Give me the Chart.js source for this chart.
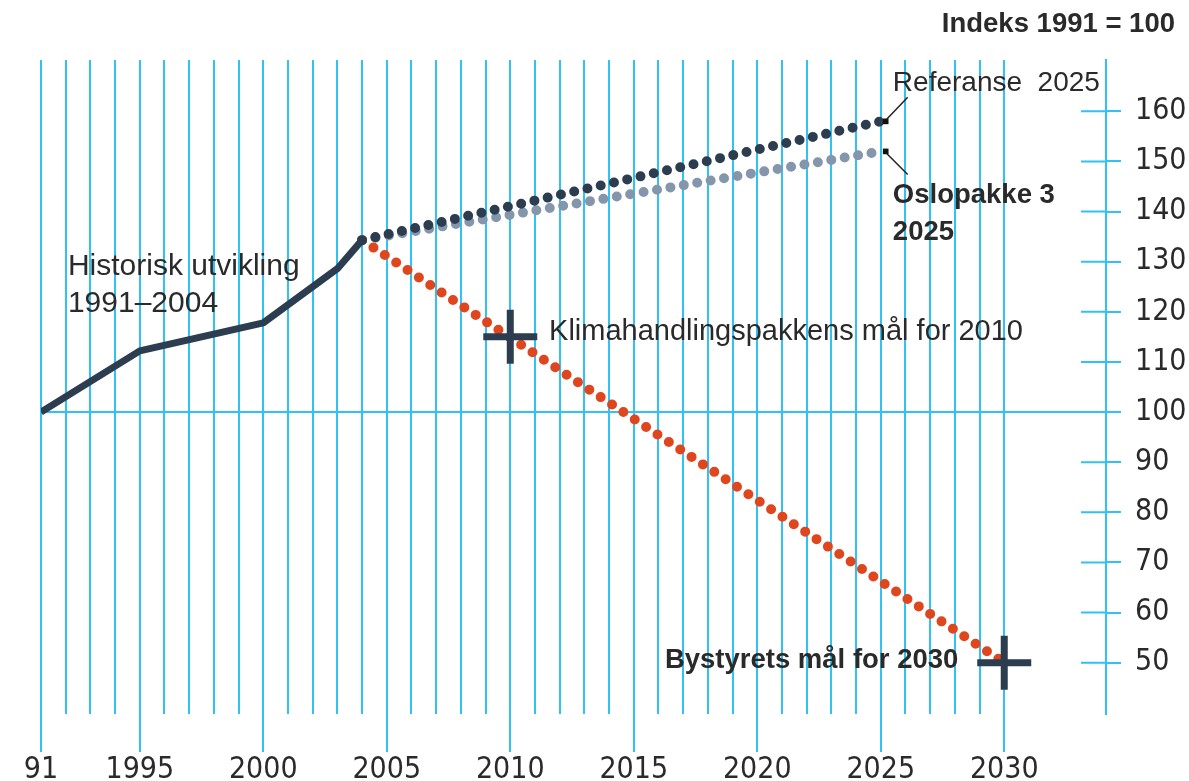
<!DOCTYPE html>
<html>
<head>
<meta charset="utf-8">
<script src="https://cdn.jsdelivr.net/npm/chart.js@4"></script>
<style>
  html, body { margin: 0; padding: 0; background: #fff; }
  #wrap { width: 1189px; height: 781px; }
</style>
</head>
<body>
<div id="wrap"><canvas id="chart" width="1189" height="781"></canvas></div>
<script>
// historisk utvikling 1991-2004
const histYears = [1991, 1995, 2000, 2003, 2004];
const histValues = [100, 112.2, 117.8, 128.6, 134.3];

// framskrivinger til 2025
const projYears = [2004, 2025];
const referanseValues = [134.3, 158];
const oslopakkeValues = [134.3, 152];

// linja mot bystyrets mål
const targetYears = [2004, 2030];
const targetValues = [134.3, 50];

// mål (kryss)
const goalYears = [2010, 2030];
const goalValues = [115, 50];

// endepunkt for framskrivingene (små firkanter)
const endYear = 2025.2;

// akser
const yTickValues = [50, 60, 70, 80, 90, 100, 110, 120, 130, 140, 150, 160];
const xLabelYears = [1991, 1995, 2000, 2005, 2010, 2015, 2020, 2025, 2030];
const xLabelTexts = ['91', '1995', '2000', '2005', '2010', '2015', '2020', '2025', '2030'];

const CYAN = '#30c2f3';
const DARK = '#2c3d50';
const LIGHT = '#8396ac';
const RED = '#e0461e';
const TEXT = '#2a2a2a';
const NARROW = "'Liberation Sans Narrow', 'DejaVu Sans Condensed', sans-serif";
const SANS = "'Liberation Sans', Arial, sans-serif";

const xTickYears = [];
for (let y = 1991; y <= 2030; y++) xTickYears.push(y);

const toPoints = (xs, ys) => xs.map((x, i) => ({ x, y: ys[i] }));

const dotted = {
  borderWidth: 10,
  borderDash: [0, 13.6],
  borderCapStyle: 'round',
  pointRadius: 0,
  tension: 0,
};

// korte tick-streker inne i plottet + tekster
const annotate = {
  id: 'annotate',
  beforeDatasetsDraw(chart) {
    const ctx = chart.ctx;
    const y = chart.scales.y;
    const r = chart.chartArea.right;
    ctx.save();
    ctx.strokeStyle = CYAN;
    ctx.lineWidth = 2;
    ctx.beginPath();
    yTickValues.forEach(v => {
      if (v === 100) return;
      const py = y.getPixelForValue(v);
      ctx.moveTo(r - 25, py);
      ctx.lineTo(r, py);
    });
    ctx.stroke();
    ctx.restore();
  },
  afterDraw(chart) {
    const ctx = chart.ctx;
    const xs = chart.scales.x;
    const ys = chart.scales.y;
    const px = v => xs.getPixelForValue(v);
    const py = v => ys.getPixelForValue(v);

    ctx.save();
    // strek fra firkantene til tekstene
    const sx = px(endYear);
    ctx.strokeStyle = '#222';
    ctx.lineWidth = 1.5;
    ctx.beginPath();
    ctx.moveTo(sx + 1, py(referanseValues[1]) - 2);
    ctx.lineTo(sx + 22, py(referanseValues[1]) - 24);
    ctx.moveTo(sx + 1, py(oslopakkeValues[1]) + 2);
    ctx.lineTo(sx + 22, py(oslopakkeValues[1]) + 23);
    ctx.stroke();

    ctx.fillStyle = TEXT;
    ctx.textBaseline = 'alphabetic';
    ctx.textAlign = 'left';

    ctx.font = '30px ' + SANS;
    ctx.fillText('Historisk utvikling', px(1992.09), py(127.28));
    ctx.fillText('1991–2004', px(1992.09), py(127.28) + 36.7);

    ctx.font = '28px ' + SANS;
    ctx.fillText('Referanse  2025', px(2025.49), py(164.1));

    ctx.font = '29px ' + SANS;
    ctx.fillText('Klimahandlingspakkens mål for 2010', px(2011.57), py(114.3));

    ctx.font = 'bold 27.5px ' + SANS;
    ctx.fillText('Oslopakke 3', px(2025.49), py(141.8));
    ctx.fillText('2025', px(2025.49), py(141.8) + 37.4);
    ctx.fillText('Bystyrets mål for 2030', px(2016.26), py(48.94));

    ctx.textAlign = 'right';
    ctx.fillText('Indeks 1991 = 100', chart.width - 14, 32);
    ctx.restore();
  }
};

new Chart(document.getElementById('chart'), {
  type: 'line',
  data: {
    datasets: [
      {
        label: 'Historisk utvikling 1991–2004',
        data: toPoints(histYears, histValues),
        borderColor: DARK,
        borderWidth: 7,
        borderJoinStyle: 'round',
        pointRadius: 0,
        order: 1,
      },
      { label: 'Referanse 2025', data: toPoints(projYears, referanseValues), borderColor: DARK, ...dotted, order: 2 },
      { label: 'Oslopakke 3 2025', data: toPoints(projYears, oslopakkeValues), borderColor: LIGHT, ...dotted, order: 4 },
      { label: 'Mot bystyrets mål', data: toPoints(targetYears, targetValues), borderColor: RED, ...dotted, order: 3 },
      {
        label: 'Mål',
        data: toPoints(goalYears, goalValues),
        showLine: false,
        pointStyle: 'cross',
        pointRadius: 27,
        pointBorderWidth: 7,
        pointBorderColor: DARK,
        order: 0,
      },
      {
        label: 'Ende',
        data: [{ x: endYear, y: referanseValues[1] }, { x: endYear, y: oslopakkeValues[1] }],
        showLine: false,
        pointStyle: 'rect',
        pointRadius: 4,
        pointBackgroundColor: '#111',
        pointBorderWidth: 0,
        order: 0,
      },
    ],
  },
  options: {
    responsive: false,
    animation: false,
    events: [],
    layout: { padding: { left: 41, top: 60, right: 0, bottom: 0 } },
    plugins: { legend: { display: false }, tooltip: { enabled: false } },
    scales: {
      x: {
        type: 'linear',
        min: 1991,
        max: 2034.12,
        afterBuildTicks: s => { s.ticks = xTickYears.map(v => ({ value: v })); },
        afterFit: s => { s.height = 67; },
        border: { display: false },
        grid: {
          color: CYAN,
          lineWidth: 2,
          tickLength: 38,
          tickWidth: 2,
          tickColor: c => xLabelYears.includes(c.tick.value) ? CYAN : 'transparent',
        },
        ticks: {
          autoSkip: false,
          maxRotation: 0,
          padding: 0,
          color: TEXT,
          font: { family: NARROW, size: 30 },
          callback: v => {
            const i = xLabelYears.indexOf(v);
            return i >= 0 ? xLabelTexts[i] : '';
          },
        },
      },
      y: {
        position: 'right',
        min: 39.75,
        max: 170.24,
        afterBuildTicks: s => { s.ticks = yTickValues.map(v => ({ value: v })); },
        afterFit: s => { s.width = 83; },
        border: { display: true, color: CYAN, width: 2 },
        grid: {
          color: c => c.tick && c.tick.value === 100 ? CYAN : 'transparent',
          lineWidth: 2,
          tickLength: 15,
          tickWidth: 2,
          tickColor: CYAN,
        },
        ticks: {
          padding: 14,
          color: TEXT,
          font: { family: NARROW, size: 30 },
        },
      },
    },
  },
  plugins: [annotate],
});
</script>
</body>
</html>
